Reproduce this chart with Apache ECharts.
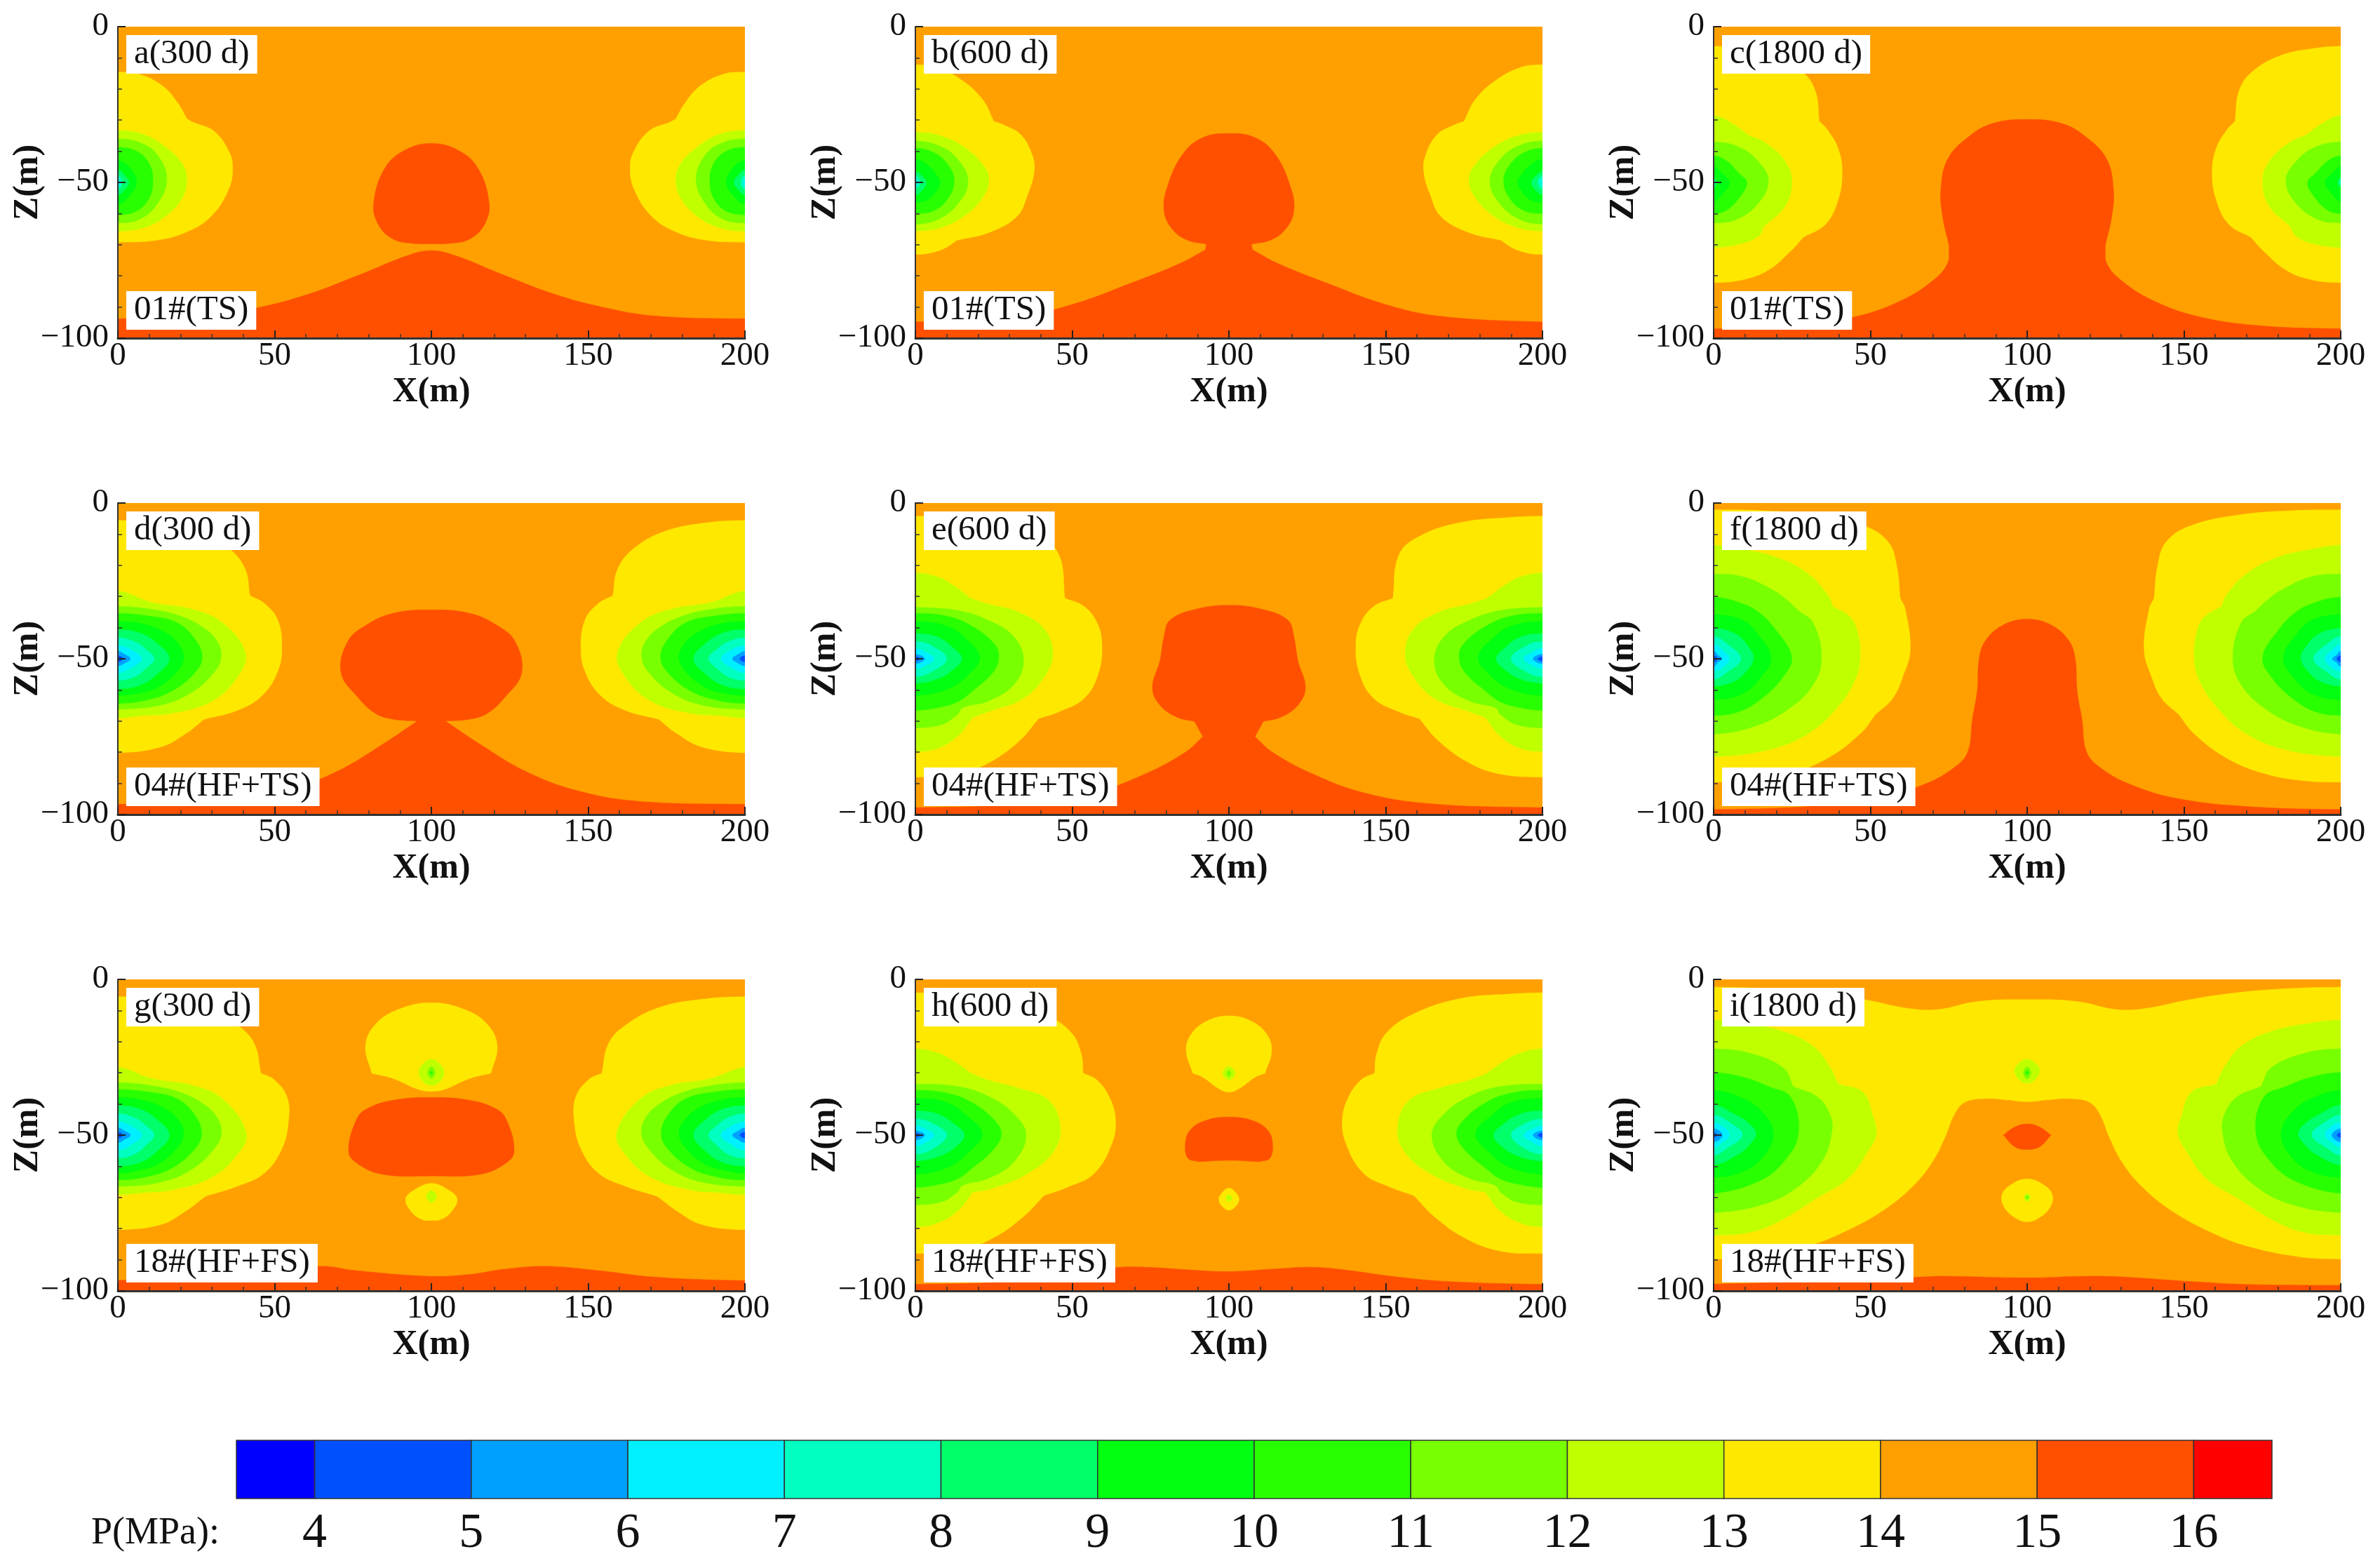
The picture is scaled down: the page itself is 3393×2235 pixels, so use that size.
<!DOCTYPE html>
<html>
<head>
<meta charset="utf-8">
<script src="https://cdn.jsdelivr.net/npm/echarts@6/dist/echarts.min.js"></script>
<style>html,body{margin:0;padding:0;background:#fff}#c{width:3393px;height:2235px}</style>
</head>
<body>
<div id="c"></div>
<script>
// Pressure bands: a band is named by its lower bound, e.g. 14 means 14-15 MPa
const bandLevels = [3, 4, 5, 6, 7, 8, 9, 10, 11, 12, 13, 14, 15, 16];
const bandColors = ['#0000ff','#0050ff','#00a0ff','#00f0ff','#00ffc0','#00ff68','#00ff10','#28ff00','#78ff00','#c0ff00','#ffe800','#ffa000','#ff5000','#ff0000'];
const barEdges = [3.5,4,5,6,7,8,9,10,11,12,13,14,15,16,16.5];
const topLabels = ['a(300 d)','b(600 d)','c(1800 d)','d(300 d)','e(600 d)','f(1800 d)','g(300 d)','h(600 d)','i(1800 d)'];
const bottomLabels = ['01#(TS)','01#(TS)','01#(TS)','04#(HF+TS)','04#(HF+TS)','04#(HF+TS)','18#(HF+FS)','18#(HF+FS)','18#(HF+FS)'];

// Wells: [band, contour]; a contour point is [distance from the side wall (m), Z (m), optional corner flag]
const wellsA = [
 [13,[[0,-14.6],[7,-15.3],[14.5,-19.2],[19.3,-24.8],[22,-29.6,1],[24,-30.7],[30.6,-33.5],[35.4,-40],[36.6,-45.2],[35.4,-52],[29.8,-60.8],[21.7,-66],[12,-68.6],[0,-69.2]]],
 [12,[[0,-33.3],[8,-34.5],[15,-38.5],[20.5,-44],[22,-49],[20.5,-55],[15,-61],[8,-64.6],[0,-65.7]]],
 [11,[[0,-36],[7,-37.2],[12.5,-41],[15.6,-49],[12.5,-57],[7,-61.8],[0,-63]]],
 [10,[[0,-38.7],[6,-40],[10,-44],[11.2,-49.5],[10,-55],[6,-59.2],[0,-60.4]]],
 [9,[[0,-43],[3.5,-45],[6,-49.8],[3.5,-54.5],[0,-57]]],
 [8,[[0,-46],[2,-47.5],[3.5,-50],[2,-52.5],[0,-54]]],
 [7,[[0,-47.8],[1.3,-50],[0,-52.2]]],
 [6,[[0,-49],[0.5,-50],[0,-51]]]
];
const shapesA = [
 [15,'lobe',[[100,-37.5],[108.2,-39.5],[114.7,-45.2],[118.4,-56.5],[117,-63.4],[112.2,-68.2],[105.8,-69.6],[100,-69.7]]],
 [15,'below',[[100,-71.9],[107.4,-73.4],[123.5,-79.9],[139.6,-86],[155.7,-90.3],[171.8,-92.9],[200,-93.8]]]
];
const wellsB = [
 [13,[[0,-12.2],[7,-13.1],[15.1,-17.4],[21.5,-23.5],[25,-30.4,1],[28,-31.5],[33.7,-34.8],[37.4,-41.7],[37.8,-47],[35.8,-53.9],[32.5,-60.8],[23.7,-66],[13.2,-68.6,1],[9.2,-71.2],[4,-72.8],[0,-73.1]]],
 [12,[[0,-33.9],[8,-35],[16,-39],[22,-45],[23.4,-49],[22,-54],[16,-60.5],[8,-64.5],[0,-65.6]]],
 [11,[[0,-36.7],[7,-38],[13,-42],[16.8,-49.5],[13.5,-57],[7,-62],[0,-63.4]]],
 [10,[[0,-39],[6,-40.5],[10.5,-44.5],[12.4,-49.5],[10.5,-55],[6,-59],[0,-60]]],
 [9,[[0,-42.6],[4,-44.5],[7,-48],[7.9,-50],[6.5,-53],[4,-55.5],[0,-56.5]]],
 [8,[[0,-46.5],[2.2,-48],[3.5,-50],[2.2,-52.5],[0,-54]]],
 [7,[[0,-48],[1.5,-50],[0,-52]]],
 [6,[[0,-49.4],[0.4,-50],[0,-50.6]]]
];
const shapesB = [
 [15,'below',[[100,-34.3],[108.3,-35.6],[114.7,-40.9],[119.6,-51.3],[120.7,-59.1],[118,-65.1],[113.1,-68.6],[107.2,-69.8,1],[107.5,-71.6,1],[115.6,-76],[131.7,-82.5],[149.4,-89],[167,-92.9],[200,-94.8]]]
];
const wellsC = [
 [13,[[0,-6.3],[7.9,-6.9],[19,-9.2],[28.6,-14.8],[32.5,-20.9],[33.7,-30.4,1],[36.2,-33],[39.7,-39.1],[41,-46.9],[39.7,-55.6],[35.7,-63.4],[28.6,-67.6,1],[24.6,-72],[17.5,-78.1],[9.5,-81.2],[0,-82.2]]],
 [12,[[0,-28.5],[6.3,-31.3],[11,-34.8,1],[16.7,-37.4],[23,-43.5],[24.9,-49.5],[23,-57.3],[15.9,-64.3,1],[14.3,-67.3],[7.9,-69.9],[0,-70.9]]],
 [11,[[0,-37],[8,-38.6],[14,-43],[17.5,-49.5],[14,-57],[7,-62],[0,-63]]],
 [10,[[0,-41.5],[4,-43],[8,-47],[10.6,-50],[8.5,-54.5],[4,-59],[0,-60]]],
 [9,[[0,-45],[2.5,-47],[5,-50],[2.5,-54],[0,-56]]],
 [8,[[0,-48.5],[0.9,-50],[0,-51.5]]],
 [7,[[0,-49.5],[0.3,-50],[0,-50.5]]]
];
const shapesC = [
 [15,'below',[[100,-29.8],[111.1,-31.1],[119,-35.6],[125.4,-42.6],[127.5,-52.1],[127,-60.8],[124.9,-70.3,1],[125.4,-76],[130.2,-81.6],[139.7,-87.7],[154,-92.9],[173,-95.9],[200,-97]]]
];
const wellsD = [
 [13,[[0,-5.6],[12,-6.3],[25,-8.9],[34.8,-14.1],[40.5,-21],[42.1,-29.7,1],[46.9,-32.4],[51,-37.6],[52.3,-46.2],[51,-54],[46,-61.8],[38,-66.6],[27.5,-69.4,1],[21.7,-74],[13.7,-78.3],[0,-80.2]]],
 [12,[[0,-28.2],[10.8,-31.9],[23.7,-34.1],[33.3,-38.4],[40.6,-48],[38.2,-55.8],[30,-63.6],[17.2,-67.5],[7.6,-68.3],[0,-69]]],
 [11,[[0,-33.2],[10,-34],[20,-36.3],[28,-40.5],[32,-45],[32.9,-49.5],[31,-54],[24,-60.5],[14,-64.8],[0,-66.2]]],
 [10,[[0,-35.4],[10,-36.3],[18.8,-38.4],[24.5,-43.6],[26.9,-49.5],[24.5,-54.5],[17,-60.5],[8,-63.5],[0,-64.3]]],
 [9,[[0,-38],[8,-38.8],[15,-41.5],[19.5,-45.5],[21,-49.7],[19,-54],[13,-59],[7,-61],[0,-61.8]]],
 [8,[[0,-40.6],[7,-41.7],[12.5,-45],[16.4,-50],[12.5,-55],[7,-58.5],[0,-59.7]]],
 [7,[[0,-43.2],[5.5,-44.6],[9,-47],[11.6,-50],[9,-53],[5.5,-55.7],[0,-57]]],
 [6,[[0,-45.8],[4,-47],[7.6,-50],[4,-53],[0,-54.5]]],
 [5,[[0,-47.5],[2,-48.5],[4,-50],[2,-51.5],[0,-52.3]]],
 [4,[[0,-49],[1.6,-50],[0,-51]]]
];
const shapesD = [
 [15,'below',[[100,-34.3],[112.2,-35.4],[121,-39.3],[126.7,-44.5],[128.8,-54.5],[123.5,-62.3],[117.9,-67.5],[112.2,-69.4],[104.5,-70,1],[115.5,-77.4],[130,-86.1],[146,-92.2],[165.4,-95.7],[200,-96.7]]]
];
const wellsE = [
 [13,[[0,-4.2],[10.3,-4.6],[26.4,-6.3],[39.3,-10.7],[45.8,-16.7],[47.7,-30.6,1],[53.8,-33.2],[57.9,-38.4],[59.5,-45.4],[58.3,-54.9],[53.8,-62.7],[45.8,-67],[39.3,-69.2,1],[32.9,-76.6],[23.2,-83.5],[13.5,-87],[0,-88]]],
 [12,[[0,-22.4],[7,-23.7],[11.9,-26.3],[17.6,-30.6,1],[23.2,-32.4],[32.9,-35],[40.9,-40.2],[43.8,-48],[41.7,-54.9],[34.5,-62.7],[23.2,-67],[18.3,-68.8,1],[13.5,-74.8],[7,-78.8],[0,-79.8]]],
 [11,[[0,-33.5],[13.5,-34.5],[23.2,-37.6],[31.3,-42.8],[34.5,-50.6],[31.3,-58.4],[23.2,-63.6],[15.1,-65.7],[13.5,-67.9,1],[8.7,-71],[0,-72.2]]],
 [10,[[0,-35.4],[10,-36.3],[18,-39.5],[25,-45],[26.6,-49],[25,-54],[18,-60.5],[13.5,-63.8],[8,-65.5],[0,-66.6]]],
 [9,[[0,-38],[10,-39.5],[16,-43.5],[20.5,-49.5],[17,-55],[10,-59.8],[0,-61.8]]],
 [8,[[0,-41.9],[7,-43],[12,-46.5],[14.8,-50],[12,-53.5],[7,-56.5],[0,-57.9]]],
 [7,[[0,-44.5],[5,-45.7],[10,-50],[5,-54.3],[0,-55.8]]],
 [6,[[0,-46.7],[3,-47.8],[6,-50],[3,-52.2],[0,-53.2]]],
 [5,[[0,-48.5],[3,-50],[0,-51.6]]],
 [4,[[0,-49.3],[1.5,-50],[0,-50.7]]]
];
const shapesE = [
 [15,'below',[[100,-32.8],[110.7,-34.1],[118.8,-37.6],[120.7,-42.8],[122,-50.6],[124.4,-59.2],[122,-64.9],[116.4,-68.8],[111,-70.1,1],[108.3,-75,1],[113.9,-80],[126.8,-87],[143,-93],[163.9,-96.5],[200,-97.8]]]
];
const wellsF = [
 [13,[[0,-2.2],[14.3,-2.4],[31.7,-3.7],[47.6,-7.2],[55.6,-12.4],[58.4,-20.2],[59.5,-30.6,1],[61.1,-34.1],[62.7,-47.1],[60.3,-55.8],[57.1,-62.7],[51.6,-67.9,1],[46.8,-74],[36.5,-81.8],[23.8,-87],[11.1,-89.2],[0,-89.6]]],
 [12,[[0,-13.5],[7.9,-14.6],[20.6,-17.6],[30.2,-22.8],[36.5,-29.7],[38,-33.2,1],[43.6,-36.7],[46,-41.9],[46.7,-49.7],[45.2,-56.6],[39.7,-65.3],[30.2,-74],[17.5,-79.2],[0,-81.4]]],
 [11,[[0,-22.8],[9.5,-23.7],[19,-28],[23.8,-31.5],[27,-34.5],[31.7,-38.4],[34.4,-49.7],[31.7,-58.4],[23.8,-66.2],[12.7,-71.8],[0,-74.2]]],
 [10,[[0,-30.2],[8,-31.9],[14.3,-35],[20,-41],[24.9,-49.5],[22,-56],[15,-63],[8,-67],[0,-68.2]]],
 [9,[[0,-35.8],[9,-37.5],[14,-42],[18.3,-49.7],[15,-56],[9,-61.3],[0,-63.1]]],
 [8,[[0,-40.2],[7,-42],[11,-46],[12.7,-50],[10,-54.5],[6,-57.5],[0,-58.8]]],
 [7,[[0,-42.8],[4,-45],[8.7,-50],[4,-54.5],[0,-56.6]]],
 [6,[[0,-45.4],[2.5,-47],[5,-50],[2.5,-53],[0,-54]]],
 [5,[[0,-47.5],[1.3,-48.8],[2.7,-50],[1.3,-51.2],[0,-52.5]]],
 [4,[[0,-49],[1.2,-50],[0,-51]]]
];
const shapesF = [
 [15,'below',[[100,-37.3],[107.9,-39.3],[113.5,-44.5],[115.4,-50.6],[115.9,-60.1],[117.5,-69.6],[119,-80],[123.8,-85.3],[133.3,-90.5],[147.6,-94.8],[169.8,-97.4],[200,-98.4]]]
];
const wellsG = [
 [13,[[0,-5.6],[12,-6.2],[26.6,-8.8],[37.8,-14.5],[43.5,-20.6],[45.6,-30.1,1],[50,-32.3],[54,-37.9],[54.4,-45.7],[52.3,-54.4],[46.7,-62.2],[37.8,-66.5],[28,-69.6,1],[21.7,-74.3],[13.7,-78.7],[0,-80.4]]],
 [12,[[0,-28.2],[10.8,-31.8],[23.7,-34],[33.3,-38.3],[40.9,-49.2],[38.2,-56.1],[30,-63.5],[17.2,-67.6],[7.6,-68.5],[0,-69.1]]],
 [11,[[0,-33.1],[10,-34],[20,-36.3],[28,-40.5],[32,-45],[33,-49.5],[31,-54],[24,-60.7],[14,-65],[0,-66.5]]],
 [10,[[0,-35.3],[10,-36.2],[18.8,-38.3],[24.5,-43.5],[26.7,-49.5],[24.5,-54.5],[17,-60.7],[8,-63.6],[0,-64.4]]],
 [9,[[0,-37.9],[8,-38.8],[15,-41.5],[19.5,-45.5],[21,-49.7],[19,-54],[13,-59.2],[7,-61.2],[0,-62.2]]],
 [8,[[0,-40.5],[7,-41.6],[12.5,-45],[16.4,-50],[12.5,-55.2],[7,-58.8],[0,-60]]],
 [7,[[0,-43.1],[5.5,-44.5],[9,-47],[11.6,-50],[9,-53.2],[5.5,-56],[0,-57.4]]],
 [6,[[0,-45.7],[4,-47],[7.6,-50],[4,-53.2],[0,-54.8]]],
 [5,[[0,-47.6],[2,-48.6],[4,-50],[2,-51.5],[0,-52.4]]],
 [4,[[0,-49],[1.6,-50],[0,-51]]]
];
const shapesG = [
 [15,'lobe',[[100,-37.9],[112.2,-38.8],[120.3,-41.4],[123.8,-44.8],[126.4,-55.2],[123.5,-59.2],[115.5,-62.6],[100,-63.1]]],
 [13,'lobe',[[100,-7.5],[110.6,-9.7],[117.9,-14.5],[121,-21.4],[119,-30.1,1],[112.2,-31.8],[104.2,-35.3],[100,-35.9]]],
 [12,'lobe',[[100,-25.6],[103,-27.5],[104,-30],[102.5,-33],[100,-34]]],
 [11,'lobe',[[100,-28],[101.2,-30],[100,-31.8]]],
 [10,'lobe',[[100,-29.4],[100.4,-30],[100,-30.6]]],
 [13,'lobe',[[100,-65.5],[105.1,-67.4],[108.2,-70.4],[106.6,-74.3],[103.4,-76.9],[100,-77.4]]],
 [12,'lobe',[[100,-67.8],[101.6,-69.7],[100,-71.6]]],
 [15,'across',[[0,-96.6],[30,-95.5],[50,-93.5],[65.5,-92.1],[75.2,-93.4],[99.4,-95.3],[112.2,-94.7],[123.5,-93],[136.4,-92.1],[152.5,-93.4],[171.8,-95.6],[200,-96.7]]]
];
const wellsH = [
 [13,[[0,-4.3],[10.3,-4.7],[26.4,-6.2],[40.9,-11],[49.7,-17.1],[52.9,-24],[53.5,-30.1,1],[57.9,-32.3],[61.9,-37.9],[63.8,-44.8],[62.7,-52.6],[57.1,-62.2],[49,-66.5],[41,-69.4,1],[34.5,-76.1],[24.8,-83],[13.5,-87.2],[0,-88]]],
 [12,[[0,-22.3],[7,-23.6],[12.7,-26.6],[17.6,-30.1,1],[23.2,-32.3],[32.9,-34.9],[42.5,-38.8],[46.2,-47.4],[44.1,-55.2],[36,-62.2],[24.8,-67],[18.3,-68.3,1],[13.5,-74.3],[7,-78.2],[0,-79.5]]],
 [11,[[0,-33.6],[13.5,-34.4],[23.2,-37.5],[31.3,-43.1],[35.3,-50],[31.3,-58.7],[23.2,-63.9],[15.1,-66.1],[13.5,-68.3,1],[8.7,-71.3],[0,-72.4]]],
 [10,[[0,-35.6],[10,-36.5],[18,-39.5],[25,-45],[27.4,-49.5],[25,-54.5],[18,-60.7],[13.5,-64],[8,-65.7],[0,-66.8]]],
 [9,[[0,-38.2],[10,-39.5],[16,-43.5],[21.3,-49.5],[17,-55.5],[10,-60.5],[0,-62.6]]],
 [8,[[0,-42.2],[7,-43.2],[12.5,-46.5],[15.6,-50],[12.5,-54],[7,-57],[0,-58.3]]],
 [7,[[0,-44.8],[5,-46],[10,-50],[5,-54.7],[0,-56.1]]],
 [6,[[0,-47],[3,-48],[6,-50],[3,-52.4],[0,-53.5]]],
 [5,[[0,-48.6],[3,-50],[0,-51.6]]],
 [4,[[0,-49.3],[1.5,-50],[0,-50.7]]]
];
const shapesH = [
 [15,'lobe',[[100,-44.2],[107.5,-45.3],[112.3,-48.3],[113.9,-52.6],[113.1,-57.4],[109.9,-58.5,1],[100,-58.1]]],
 [13,'lobe',[[100,-11.7],[107.5,-13.6],[112.3,-18],[113.6,-23.2],[111.5,-30.1,1],[108.3,-31.4],[103.5,-34.9],[100,-36.2]]],
 [12,'lobe',[[100,-27.9],[102,-30.2],[100,-32.3]]],
 [11,'lobe',[[100,-29.2],[100.7,-30.2],[100,-31.2]]],
 [13,'lobe',[[100,-67],[102.2,-68.5],[103.2,-70.7],[102,-73],[100,-74.1]]],
 [12,'lobe',[[100,-69.1],[101,-70.2],[100,-71.3]]],
 [15,'across',[[0,-97.9],[30,-97],[50,-94.5],[64,-92.5],[73.7,-92.4],[86.5,-93.2],[99.4,-93.8],[113.9,-93],[126.8,-92.4],[138,-93.4],[154.2,-95.6],[170.3,-97],[200,-97.9]]]
];
const wellsI = [
 [12,[[0,-13],[9.5,-14],[22.2,-16.7],[31.7,-21.4],[37,-28],[39.7,-33.6,1],[47.6,-36.2],[50.8,-44],[51.9,-49.6],[49.2,-55.2],[42.9,-63.9],[33.3,-70],[20.6,-77.8],[11.1,-81.3],[0,-82.1]]],
 [11,[[0,-22.3],[11.1,-23.6],[22.2,-28.4],[25.4,-34.4,1],[33.3,-37.9],[37.3,-44],[37.6,-49.6],[34.9,-57.8],[27,-66.5],[15.9,-72.2],[0,-74.9]]],
 [10,[[0,-29.9],[9.5,-31.4],[17.5,-34.4],[24.6,-37.9],[27,-49.6],[22.2,-58.7],[14.3,-64.8],[0,-68.7]]],
 [9,[[0,-35.7],[6.3,-37],[14.3,-41.4],[19,-49.6],[15,-57.8],[8,-62.2],[0,-63.5]]],
 [8,[[0,-40.3],[6.3,-43.1],[11,-46],[13.5,-49.6],[11,-53.5],[8,-56.1],[0,-59.6]]],
 [7,[[0,-43.5],[4.8,-45.7],[9.2,-49.9],[4,-54.4],[0,-56.5]]],
 [6,[[0,-46.1],[3.2,-47.4],[5,-50],[2.4,-52.6],[0,-53.9]]],
 [5,[[0,-47.9],[2.8,-50],[0,-52.2]]],
 [4,[[0,-49.2],[1.2,-50],[0,-50.8]]]
];
const shapesI = [
 [12,'lobe',[[100,-25.6],[103.2,-27.5],[104,-29.7],[102.4,-32.3],[100,-33.3]]],
 [11,'lobe',[[100,-28],[101.2,-30],[100,-32]]],
 [10,'lobe',[[100,-29.3],[100.5,-30],[100,-30.7]]],
 [15,'lobe',[[100,-46.4],[104,-47.4],[107.6,-50,1],[104,-53.7],[100,-54.6]]],
 [13,'lobe',[[100,-64.1],[104.8,-65.7],[108,-69.1],[107.1,-73.5],[103.2,-76.9],[100,-77.8]]],
 [12,'lobe',[[100,-68.7],[101,-70],[100,-71.3]]],
 [11,'lobe',[[100,-69.4],[100.5,-70],[100,-70.6]]],
 [15,'across',[[0,-97.8],[30,-97],[50,-96.3],[65,-95.6],[74.6,-95.3],[100,-95.8],[119,-95.3],[131.7,-95.6],[150.8,-96.9],[169.8,-97.9],[200,-98.2]]]
];
// Panel i: the yellow field and the orange dome cut out of it are drawn before the wells
const underI = [
 [13,'below',[[100,-6.5],[115.9,-7.1],[128.6,-9.7],[138.1,-9.3],[150.8,-6.7],[165,-4.5],[182.5,-3],[200,-2.5]]],
 [14,'below',[[100,-39.4],[106.3,-38.8],[113.5,-38.4],[119.8,-39.5],[123,-43.1],[126.2,-50.9],[130.2,-58.7],[136.5,-66.5],[146,-74.3],[158.7,-81.3],[169.8,-85.6],[185.7,-89],[200,-89.9]]]
];
const panelWells = [wellsA, wellsB, wellsC, wellsD, wellsE, wellsF, wellsG, wellsH, wellsI];
const panelShapes = [shapesA, shapesB, shapesC, shapesD, shapesE, shapesF, shapesG, shapesH, shapesI];
const panelUnder = [[],[],[],[],[],[],[],[],underI];

// Layout
const colLeft = [168, 1305, 2443], rowTop = [38, 717, 1396], plotW = 894, plotH = 444;
const FONT = 'Liberation Serif';

function expand(pts){ const r=[]; pts.forEach(p=>{ r.push([p[0],p[1]]); if(p[2]) r.push([p[0],p[1]]); }); return r; }
function mirrorX(pts){ return pts.map(p=>[200-p[0],p[1]]); }
function shapePolygon(kind, raw){
  const half = expand(raw);
  if(kind==='lobe'){
    const back = mirrorX(half.slice(1,half.length-1)).reverse();
    return half.concat(back);
  }
  let line;
  if(kind==='below'){
    line = mirrorX(half.slice(1)).reverse().concat(half);
  } else { line = half; }
  const a=line[0], b=line[line.length-1];
  return [[-20,a[1]]].concat(line,[[220,b[1]],[220,-125],[-20,-125]]);
}
function wellPolygon(raw, right){
  const c = expand(raw);
  const poly = [[-20,c[0][1]]].concat(c,[[-20,c[c.length-1][1]]]);
  return right ? mirrorX(poly) : poly;
}
function colorOf(band){ return bandColors[bandLevels.indexOf(band)]; }

const grids=[], xAxes=[], yAxes=[], series=[], titles=[];
const tickStyle={show:true,inside:true,length:11,lineStyle:{color:'#222',width:2}};
const minorStyle={show:true,splitNumber:5,length:6,lineStyle:{color:'#333',width:1.5}};
for(let i=0;i<9;i++){
  const col=i%3,row=Math.floor(i/3);
  const L=colLeft[col],T=rowTop[row];
  grids.push({left:L,top:T,width:plotW,height:plotH,containLabel:false});
  xAxes.push({gridIndex:i,type:'value',min:0,max:200,interval:50,z:10,
    name:'X(m)',nameLocation:'middle',nameGap:52,nameMoveOverlap:false,
    nameTextStyle:{fontFamily:FONT,fontWeight:'bold',fontSize:50,color:'#111'},
    axisLine:{onZero:false,lineStyle:{color:'#333',width:3}},
    axisTick:tickStyle,minorTick:minorStyle,splitLine:{show:false},minorSplitLine:{show:false},
    axisLabel:{fontFamily:FONT,fontSize:47,color:'#111',margin:2}});
  yAxes.push({gridIndex:i,type:'value',min:-100,max:0,interval:50,z:10,
    name:'Z(m)',nameLocation:'middle',nameGap:103,nameMoveOverlap:false,
    nameTextStyle:{fontFamily:FONT,fontWeight:'bold',fontSize:50,color:'#111'},
    axisLine:{onZero:false,lineStyle:{color:'#333',width:2}},
    axisTick:tickStyle,minorTick:minorStyle,splitLine:{show:false},minorSplitLine:{show:false},
    axisLabel:{fontFamily:FONT,fontSize:47,color:'#111',margin:13,formatter:v=>String(v).replace('-','\u2212')}});

  const polys=[{band:14,pts:[[0,0],[200,0],[200,-100],[0,-100]],smooth:0}];
  panelUnder[i].forEach(s=>polys.push({band:s[0],pts:shapePolygon(s[1],s[2]),smooth:0.4}));
  panelWells[i].forEach(w=>{
    polys.push({band:w[0],pts:wellPolygon(w[1],false),smooth:0.4});
    polys.push({band:w[0],pts:wellPolygon(w[1],true),smooth:0.4});
  });
  panelShapes[i].forEach(s=>polys.push({band:s[0],pts:shapePolygon(s[1],s[2]),smooth:0.4}));

  series.push({type:'custom',xAxisIndex:i,yAxisIndex:i,clip:true,silent:true,animation:false,
    data:polys.map((p,k)=>[100,-50,k]),encode:{x:0,y:1},
    renderItem:function(params,api){
      const p=polys[api.value(2)];
      const fill=colorOf(p.band);
      return {type:'polygon',shape:{points:p.pts.map(q=>api.coord(q)),smooth:p.smooth},
        style:{fill:fill,stroke:fill,lineWidth:0.5}};
    }});

  const ts=(text,top)=>({text:text,left:L+12,top:T+top,padding:[0,11,0,11],backgroundColor:'#fff',
    textStyle:{fontFamily:FONT,fontWeight:'normal',fontSize:49,lineHeight:55,color:'#111'}});
  titles.push(ts(topLabels[i],12));
  titles.push(ts(bottomLabels[i],377));
}
// Colour bar
grids.push({left:337,top:2053,width:2902,height:83});
xAxes.push({gridIndex:9,type:'value',min:3.5,max:16.5,interval:0.5,z:10,
  axisLine:{show:false},axisTick:{show:false},splitLine:{show:false},
  axisLabel:{fontFamily:FONT,fontSize:70,color:'#111',margin:16,showMinLabel:false,showMaxLabel:false,
    formatter:v=>Number.isInteger(v)?String(v):''}});
yAxes.push({gridIndex:9,type:'value',min:0,max:1,show:false});
const barBands=barEdges.slice(0,-1).map((e,k)=>[e,barEdges[k+1],bandLevels[k]]);
series.push({type:'custom',xAxisIndex:9,yAxisIndex:9,silent:true,animation:false,
  data:barBands,encode:{x:[0,1]},
  renderItem:function(params,api){
    const a=api.coord([api.value(0),1]),b=api.coord([api.value(1),0]);
    return {type:'rect',shape:{x:a[0],y:a[1],width:b[0]-a[0],height:b[1]-a[1]},
      style:{fill:colorOf(api.value(2)),stroke:'#333',lineWidth:1.5}};
  }});
titles.push({text:'P(MPa):',left:130,top:2155,padding:0,
  textStyle:{fontFamily:FONT,fontWeight:'normal',fontSize:54,lineHeight:62,color:'#111'}});

const chart=echarts.init(document.getElementById('c'),null,{renderer:'canvas'});
chart.setOption({backgroundColor:'#fff',animation:false,title:titles,grid:grids,xAxis:xAxes,yAxis:yAxes,series:series});
</script>
</body>
</html>
